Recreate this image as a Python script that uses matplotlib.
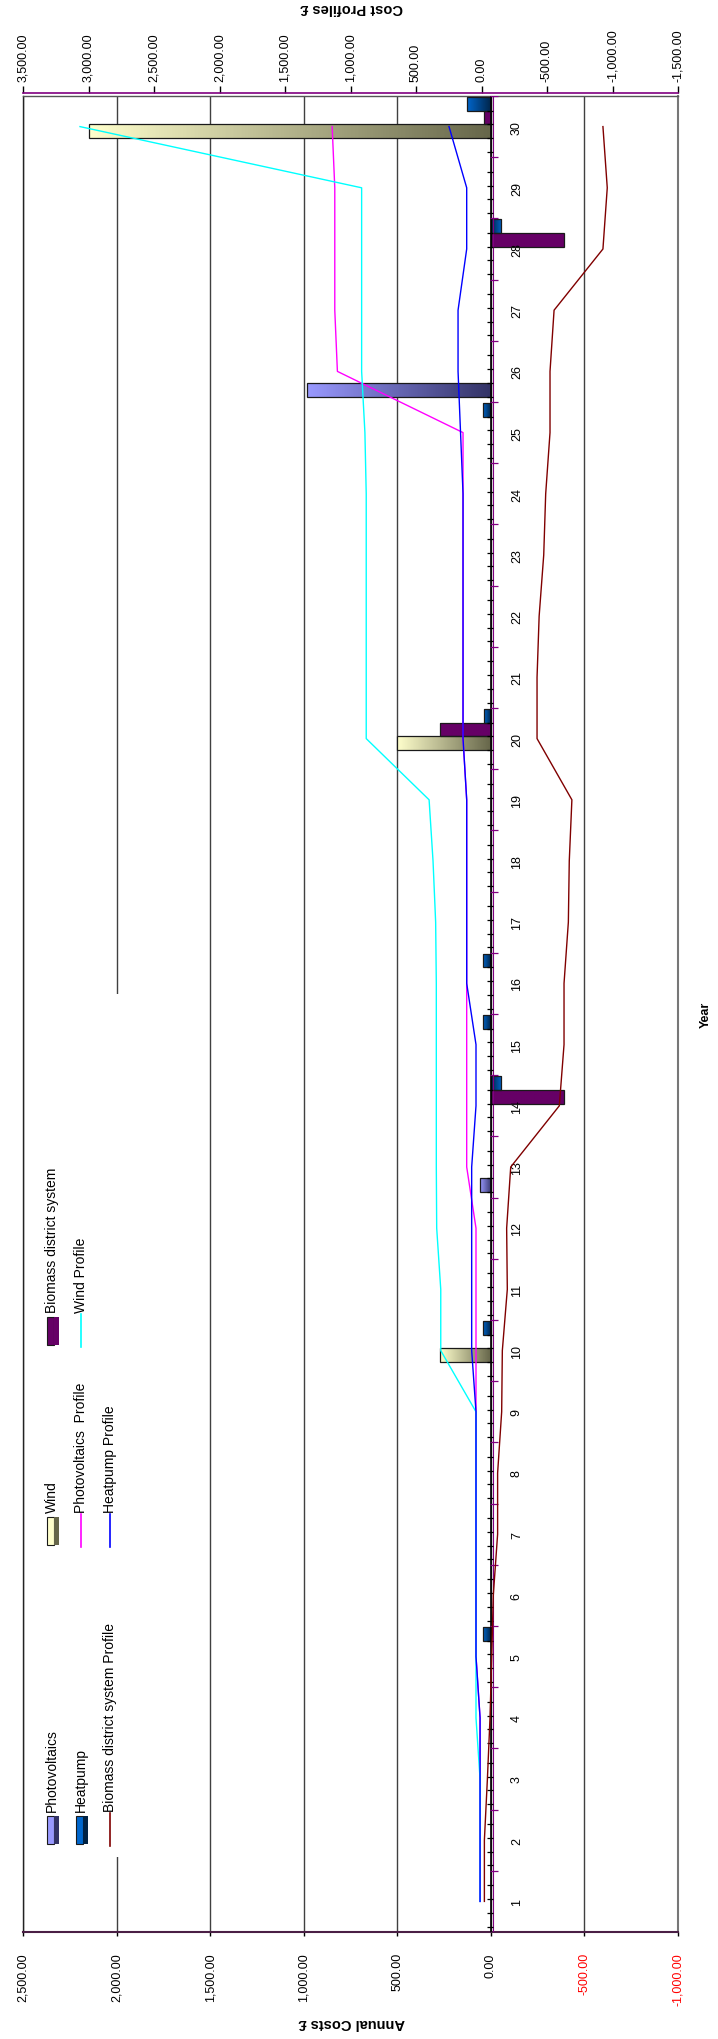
import numpy as np
import matplotlib
matplotlib.use('Agg')
import matplotlib.pyplot as plt
from matplotlib.colors import LinearSegmentedColormap
from matplotlib.patches import Rectangle
from matplotlib.lines import Line2D
import matplotlib.transforms as mtransforms

plt.rcParams['font.family'] = ['Liberation Sans', 'DejaVu Sans']

# ---------------- data ----------------
years = np.arange(1, 31)

pv_cost = [0, 0, 0, 0, 0, 0, 0, 0, 0, 0, 0, 0, 60, 0, 0, 0, 0, 0, 0, 0,
           0, 0, 0, 0, 0, 980, 0, 0, 0, 0]
wind_cost = [0, 0, 0, 0, 0, 0, 0, 0, 0, 270, 0, 0, 0, 0, 0, 0, 0, 0, 0, 500,
             0, 0, 0, 0, 0, 0, 0, 0, 0, 2150]
biomass_cost = [0, 0, 0, 0, 0, 0, 0, 0, 0, 0, 0, 0, 0, -390, 0, 0, 0, 0, 0, 270,
                0, 0, 0, 0, 0, 0, 0, -390, 0, 35]
heatpump_cost = [0, 0, 0, 0, 40, 0, 0, 0, 0, 40, 0, 0, 0, -55, 40, 40, 0, 0, 0, 35,
                 0, 0, 0, 0, 40, 0, 0, -55, 0, 130]

pv_profile = [11, 11, 11, 11, 42, 42, 42, 42, 42, 42, 42, 42, 113, 113, 113, 113, 113, 113, 113, 141,
              141, 141, 141, 141, 141, 1100, 1120, 1120, 1120, 1140]
heatpump_profile = [11, 11, 11, 11, 42, 42, 42, 42, 42, 75, 75, 75, 75, 42, 42, 113, 113, 113, 113, 141,
                    141, 141, 141, 141, 160, 179, 179, 113, 113, 248]
wind_profile = [11, 11, 11, 42, 42, 42, 42, 42, 42, 311, 311, 342, 345, 345, 345, 345, 350, 370, 400, 880,
                880, 880, 880, 880, 890, 915, 915, 915, 915, 3065]
biomass_profile = [-22, -22, -45, -65, -78, -90, -123, -123, -154, -159, -197, -192, -223, -594, -630, -630,
                   -663, -670, -690, -424, -424, -440, -475, -490, -523, -523, -554, -927, -960, -927]

primary_ticks = [2500, 2000, 1500, 1000, 500, 0, -500, -1000]
secondary_ticks = [3500, 3000, 2500, 2000, 1500, 1000, 500, 0, -500, -1000, -1500]

bar_labels = ['Photovoltaics', 'Wind', 'Biomass district system', 'Heatpump']
line_labels = ['Photovoltaics  Profile', 'Wind Profile', 'Biomass district system Profile', 'Heatpump Profile']

# ---------------- layout helpers ----------------
W, H = 718, 2040
fig = plt.figure(figsize=(W / 100, H / 100), dpi=100)
fig.patch.set_facecolor('white')


def fx(px):
    return px / W


def fy(py):
    return 1 - py / H


L, R, T, B = 23, 678, 97, 1933
ax = fig.add_axes([fx(L), fy(B), fx(R) - fx(L), fy(T) - fy(B)])
ax2 = ax.twiny()

# ---------------- bars ----------------
bar_h = 0.225
series = [
    (pv_cost, -0.30, '#333366', '#9999ff'),
    (wind_cost, -0.075, '#66664a', '#ffffcc'),
    (biomass_cost, 0.15, '#660066', '#660066'),
    (heatpump_cost, 0.375, '#002244', '#0066cc'),
]
grad = np.linspace(0, 1, 128).reshape(1, -1)
for vals, off, c_near, c_far in series:
    cmap = LinearSegmentedColormap.from_list('g', [c_near, c_far])
    for yr, v in zip(years, vals):
        if v == 0:
            continue
        y = yr + off
        rect = ax.barh(y, v, height=bar_h, left=0, facecolor='none',
                       edgecolor='#1a1a1a', linewidth=0.9, zorder=4)[0]
        im = ax.imshow(grad, extent=[0, v, y - bar_h / 2, y + bar_h / 2], cmap=cmap,
                       aspect='auto', interpolation='bilinear', origin='lower', zorder=3)
        im.set_clip_path(rect)

# zero (category) axis with small ticks
ax.axvline(0, color='black', lw=1.2, zorder=6)
ax.axvline(-9, color='#800080', lw=0.8, zorder=6)
bounds = np.array([-0.4125, -0.1875, 0.0375, 0.2625])
tick_y = (years[:, None] + bounds[None, :]).ravel()
ax.hlines(tick_y, -12, 22, color='black', lw=0.9, zorder=6)
ax.hlines(np.arange(0.5, 31, 1.0), 4, -40, color='#800080', lw=0.9, zorder=6)

ax.set_xlim(2500, -1000)
ax.set_ylim(0.5, 30.5)
ax.set_yticks([])
ax.set_axisbelow(True)
ax.grid(axis='x', color='#404040', lw=1.0)


def fmt(v):
    return f'{v:,.2f}'


ax.set_xticks(primary_ticks, [fmt(v) for v in primary_ticks])
ax.tick_params(axis='x', direction='out', length=3, width=1, labelsize=9,
               labelrotation=90, pad=11.5)
for lab, v in zip(ax.get_xticklabels(), primary_ticks):
    lab.set_color('red' if v < 0 else 'black')

ax.spines['left'].set_color('#222222')
ax.spines['left'].set_linewidth(1.0)
ax.spines['right'].set_color('#777777')
ax.spines['right'].set_linewidth(1.5)
ax.spines['top'].set_color('#555555')
ax.spines['top'].set_linewidth(1.0)
ax.spines['bottom'].set_color('#4a1f45')
ax.spines['bottom'].set_linewidth(1.5)

# ---------------- profile lines (secondary axis) ----------------
ax2.plot(pv_profile, years, color='#ff00ff', lw=1.0)
ax2.plot(wind_profile, years, color='#00ffff', lw=1.0)
ax2.plot(biomass_profile, years, color='#800000', lw=1.0)
ax2.plot(heatpump_profile, years, color='#0000ff', lw=1.0)
ax2.set_xlim(3500, -1500)
ax2.set_xticks(secondary_ticks, [fmt(v) for v in secondary_ticks])
ax2.tick_params(axis='x', direction='out', length=5, width=1, labelsize=9,
                labelrotation=90, pad=4)
for lab, v in zip(ax2.get_xticklabels(), secondary_ticks):
    lab.set_color('red' if v < 0 else 'black')
for s in ['left', 'right', 'bottom']:
    ax2.spines[s].set_visible(False)
ax2.spines['top'].set_color('#800080')
ax2.spines['top'].set_linewidth(1.2)
ax2.spines['top'].set_position(('outward', 2))

# year labels next to the zero axis
trans = mtransforms.offset_copy(ax.transData, fig=fig, x=26, y=0, units='dots')
for yr in years:
    ax.text(0, yr, str(yr), transform=trans, rotation=90, ha='center', va='center', fontsize=9)

# ---------------- titles ----------------
fig.text(fx(352), fy(2023), 'Annual Costs £', rotation=180, ha='center', va='center',
         fontsize=10.5, weight='bold')
fig.text(fx(352), fy(8), 'Cost Profiles £', rotation=180, ha='center', va='center',
         fontsize=10.5, weight='bold')
fig.text(fx(706), fy(1015), 'Year', rotation=90, ha='center', va='center',
         fontsize=9, weight='bold')

# ---------------- legend ----------------
fig.patches.append(Rectangle((fx(33), fy(1858)), fx(125) - fx(33), fy(995) - fy(1858),
                             transform=fig.transFigure, facecolor='white', edgecolor='none',
                             zorder=5))
rows = [52, 81, 110]
cols = [1812, 1513, 1313]
legend_items = [
    (bar_labels[0], 'bar', ('#9999ff', '#333366'), 0, 0),
    (bar_labels[1], 'bar', ('#ffffcc', '#66664a'), 0, 1),
    (bar_labels[2], 'bar', ('#660066', '#660066'), 0, 2),
    (bar_labels[3], 'bar', ('#0066cc', '#002244'), 1, 0),
    (line_labels[0], 'line', '#ff00ff', 1, 1),
    (line_labels[1], 'line', '#00ffff', 1, 2),
    (line_labels[2], 'line', '#800000', 2, 0),
    (line_labels[3], 'line', '#0000ff', 2, 1),
]
for label, kind, col, r, c in legend_items:
    xr = rows[r]
    ys = cols[c]
    if kind == 'bar':
        light, dark = col
        fig.patches.append(Rectangle((fx(xr - 5), fy(ys + 33)), fx(7), fy(ys + 5) - fy(ys + 33),
                                     transform=fig.transFigure, facecolor=light,
                                     edgecolor='#1a1a1a', lw=0.8, zorder=6))
        fig.patches.append(Rectangle((fx(xr + 2), fy(ys + 33)), fx(5), fy(ys + 5) - fy(ys + 33),
                                     transform=fig.transFigure, facecolor=dark,
                                     edgecolor='none', zorder=6))
    else:
        fig.lines.append(Line2D([fx(xr), fx(xr)], [fy(ys + 2), fy(ys + 35)], color=col, lw=1.2,
                                transform=fig.transFigure, zorder=6))
    fig.text(fx(xr), fy(ys), label, rotation=90, ha='center', va='bottom', fontsize=10, zorder=7)

fig.savefig('out.png', dpi=100, facecolor='white')
